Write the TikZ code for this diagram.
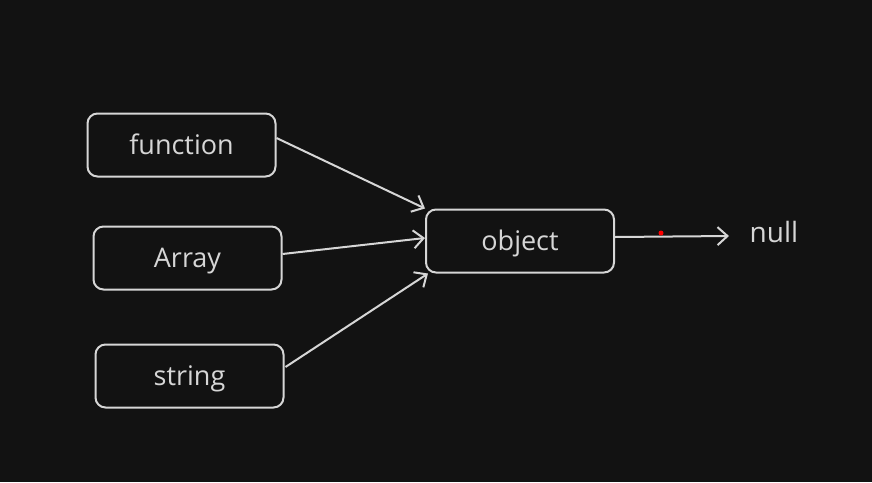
\documentclass[tikz,border=0pt]{standalone}
\usepackage{fontspec}
\setmainfont{Open Sans}
\usetikzlibrary{arrows.meta}
\definecolor{bg}{HTML}{121212}
\definecolor{ink}{HTML}{D6D6D6}
\begin{document}
\begin{tikzpicture}[x=1pt,y=-1pt,
  box/.style={draw=ink,line width=2pt,rounded corners=10pt,minimum width=188pt,minimum height=63pt,inner sep=0pt,text=ink,font=\fontsize{27}{30}\selectfont,text height=18pt,text depth=0pt},
  lbl/.style={text=ink,font=\fontsize{28}{32}\selectfont,inner sep=0pt},
  conn/.style={draw=ink,line width=2pt,-{Straight Barb[length=10pt,width=18pt,line width=2pt]}}]
\fill[bg] (0,0) rectangle (872,482);
\useasboundingbox (0,0) rectangle (872,482);
\node[box] (fn) at (181.5,145) {function};
\node[box] (arr) at (187.5,258) {Array};
\node[box] (str) at (189.5,376) {string};
\node[box] (obj) at (520,241) {object};
\node[lbl] (null) at (774,232) {null};
\coordinate (nullin) at (729,236);
\draw[conn] (fn.east) ++(0,-7) coordinate (a1) (a1) -- (obj.north west);
\draw[conn] (arr.east) ++(0,-4) coordinate (a2) (a2) -- ([yshift=3pt]obj.west);
\draw[conn] (str.east) ++(1,-9) coordinate (a3) (a3) -- ([xshift=3pt]obj.south west);
\draw[conn] (obj.east) ++(0,-4) coordinate (a4) (a4) -- (nullin);
\fill[red] (661,233) circle (2.5pt);
\end{tikzpicture}
\end{document}
